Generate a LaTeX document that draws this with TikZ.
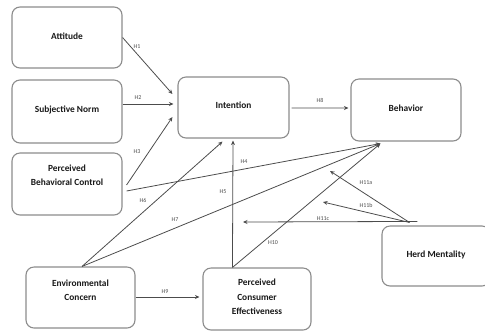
\documentclass[tikz,border=0pt]{standalone}
\usepackage{fontspec}
\setmainfont{Carlito}
\usetikzlibrary{arrows.meta,calc}
\begin{document}
\begin{tikzpicture}[x=1bp,y=-1bp,
 box/.style={draw=black!45, line width=1.1pt, rounded corners=8bp, fill=white, inner sep=0pt},
 txt/.style={font=\fontsize{9.4}{14.5}\selectfont\bfseries, text=black!90, align=center, inner sep=0pt},
 hl/.style={font=\fontsize{6}{7}\selectfont, text=black!70, inner sep=0.5pt},
 conn/.style={draw=black!70, line width=0.8pt, -{Stealth[length=4.5bp,width=4bp]}},
]
\useasboundingbox (0,0) rectangle (485,331);
% boxes
\node[box, minimum width=110bp, minimum height=61bp] (att) at (67,37.5) {};
\node[txt] (attt) at (67,36) {Attitude};
\node[box, minimum width=110bp, minimum height=63bp] (sn) at (67,111.5) {};
\node[txt] (snt) at (67,110) {Subjective Norm};
\node[box, minimum width=110bp, minimum height=62bp] (pbc) at (67,184) {};
\node[txt] (pbct) at (67,175) {Perceived\\Behavioral Control};
\node[box, minimum width=111bp, minimum height=61bp] (int) at (233.5,107.5) {};
\node[txt] (intt) at (233.5,105.5) {Intention};
\node[box, minimum width=110bp, minimum height=62bp] (beh) at (406,110) {};
\node[txt] (beht) at (406,108) {Behavior};
\node[box, minimum width=109bp, minimum height=61bp] (env) at (80.5,297.5) {};
\node[txt] (envt) at (80.5,290) {Environmental\\Concern};
\node[box, minimum width=108bp, minimum height=62bp] (pce) at (257,299) {};
\node[txt] (pcet) at (257,297) {Perceived\\Consumer\\Effectiveness};
\node[box, minimum width=108bp, minimum height=60bp] (herd) at (436,256) {};
\node[txt] (herdt) at (436,255) {Herd Mentality};
% connector anchor points
\coordinate (behin) at ($(beh.south west)+(30,2)$);
\coordinate (envout) at ($(env.north)+(1.5,0)$);
\coordinate (pceout) at ($(pce.north west)+(30,0)$);
\coordinate (herdout) at ($(herd.north west)+(28,-3)$);
\coordinate (m1) at (330,171);
\coordinate (m2) at (323,202);
\coordinate (m3) at (243,222);
% connectors
\draw[conn] (att.east) -- ($(int.west)+(-5,-13.5)$);
\draw[conn] ($(sn.east)+(0,-7.5)$) -- ($(int.west)+(-4,-3.5)$);
\draw[conn] ($(pbc.east)+(4,1)$) -- ($(int.west)+(-5,9.5)$);
\draw[conn] ($(pbc.east)+(4,7)$) -- (behin);
\draw[conn] (envout) -- ($(int.south)+(-11,3)$);
\draw[conn] (envout) -- (behin);
\draw[conn] (pceout) -- ($(int.south)+(-0.5,2)$);
\draw[conn] (pceout) -- (behin);
\draw[conn] ($(int.east)+(2,0.5)$) -- ($(beh.west)+(-2,-2)$);
\draw[conn] ($(env.east)+(0,-0.5)$) -- ($(pce.west)+(-3,-2)$);
\draw[conn] (herdout) -- (m1);
\draw[conn] (herdout) -- (m2);
\draw[conn] ($(herdout)+(8,-1)$) -- (m3);
% labels
\node[hl] (l1) at (137,47) {H1};
\node[hl] (l2) at (138,98) {H2};
\node[hl] (l3) at (137,152) {H3};
\node[hl] (l4) at (244,162) {H4};
\node[hl] (l5) at (223,192) {H5};
\node[hl] (l6) at (143,200) {H6};
\node[hl] (l7) at (175,220) {H7};
\node[hl] (l8) at (320,100) {H8};
\node[hl] (l9) at (165,292) {H9};
\node[hl] (l10) at (273,243) {H10};
\node[hl] (l11a) at (366,183) {H11a};
\node[hl] (l11b) at (366,205) {H11b};
\node[hl] (l11c) at (323,219) {H11c};
\end{tikzpicture}
\end{document}
